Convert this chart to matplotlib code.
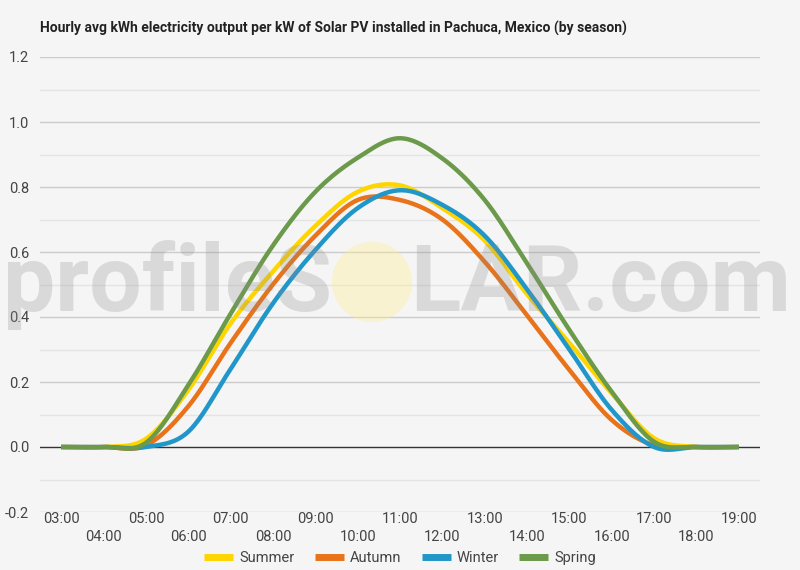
import numpy as np
import matplotlib
matplotlib.use("Agg")
import matplotlib.pyplot as plt
from matplotlib.patches import Ellipse

hours = ["03:00", "04:00", "05:00", "06:00", "07:00", "08:00", "09:00", "10:00", "11:00",
         "12:00", "13:00", "14:00", "15:00", "16:00", "17:00", "18:00", "19:00"]
summer = [0, 0, 0.025, 0.175, 0.38, 0.54, 0.68, 0.785, 0.805, 0.735, 0.635, 0.47, 0.32, 0.165, 0.027, 0, 0]
autumn = [0, 0, 0.005, 0.125, 0.32, 0.50, 0.65, 0.76, 0.76, 0.70, 0.57, 0.405, 0.237, 0.083, 0.005, 0, 0]
winter = [0, 0, 0, 0.047, 0.24, 0.442, 0.606, 0.735, 0.79, 0.745, 0.65, 0.485, 0.30, 0.114, 0, 0, 0]
spring = [0, 0, 0.013, 0.19, 0.41, 0.62, 0.785, 0.89, 0.95, 0.888, 0.76, 0.565, 0.36, 0.17, 0.016, 0, 0]
series_names = ["Summer", "Autumn", "Winter", "Spring"]
colors = ["#FFD500", "#E8731A", "#2196C9", "#6B9A4B"]

plt.rcParams['font.family'] = ['Roboto', 'DejaVu Sans']

def smooth(y, n=20):
    y = np.asarray(y, float)
    x = np.arange(len(y))
    ext = np.concatenate([[y[0]], y, [y[-1]]])
    xs, ys = [], []
    for i in range(len(y) - 1):
        p0, p1, p2, p3 = ext[i], ext[i + 1], ext[i + 2], ext[i + 3]
        t = np.linspace(0, 1, n, endpoint=False)
        m1 = (p2 - p0) / 2
        m2 = (p3 - p1) / 2
        h00 = 2 * t**3 - 3 * t**2 + 1
        h10 = t**3 - 2 * t**2 + t
        h01 = -2 * t**3 + 3 * t**2
        h11 = t**3 - t**2
        xs.append(x[i] + t)
        ys.append(h00 * p1 + h10 * m1 + h01 * p2 + h11 * m2)
    xs.append([x[-1]])
    ys.append([y[-1]])
    return np.concatenate(xs), np.concatenate(ys)

bg = "#f5f5f5"
fig = plt.figure(figsize=(8, 5.7), dpi=100, facecolor=bg)
ax = fig.add_axes([40 / 800, 1 - 512 / 570, 720 / 800, 455 / 570], facecolor=bg)

ax.set_xlim(-0.5, len(hours) - 0.5)
ax.set_ylim(-0.2, 1.2)

for v in np.arange(-0.2, 1.21, 0.1):
    v = round(v, 1)
    if abs(v) < 1e-9:
        continue
    major = abs(round(v * 10)) % 2 == 0
    ax.axhline(v, color="#cccccc" if major else "#e4e4e4", lw=1.0, zorder=0)
ax.axhline(0, color="#333333", lw=1.0, zorder=1)

for name, vals, c in zip(series_names, [summer, autumn, winter, spring], colors):
    xs, ys = smooth(vals)
    ax.plot(xs, ys, color=c, lw=3.2, label=name, solid_capstyle="butt", zorder=3)

for s in ax.spines.values():
    s.set_visible(False)
ax.set_yticks(np.arange(-0.2, 1.21, 0.2))
ax.set_yticklabels([f"{v:.1f}" for v in np.arange(-0.2, 1.21, 0.2)])
ax.tick_params(axis="y", length=0, labelsize=10.5, labelcolor="#444444", pad=8)
ax.set_xticks(range(len(hours)))
ax.set_xticklabels([])
ax.tick_params(axis="x", length=0)
for i, h in enumerate(hours):
    ax.text(i, -0.223 if i % 2 == 0 else -0.278, h, ha="center", va="center",
            fontsize=10.5, color="#444444", transform=ax.transData, clip_on=False)

fig.text(40 / 800, 1 - 28 / 570, "Hourly avg kWh electricity output per kW of Solar PV installed in Pachuca, Mexico (by season)",
         fontsize=10, fontweight="bold", color="#222222", va="center", ha="left")

# watermark
wm_color = (0.55, 0.55, 0.55, 0.26)
fig.text(3 / 800, 1 - 285 / 570, "profileS", fontsize=67, fontweight="bold", color=wm_color,
         va="center", ha="left", zorder=10)
fig.text(410 / 800, 1 - 285 / 570, "LAR.com", fontsize=67, fontweight="bold", color=wm_color,
         va="center", ha="left", zorder=10)
circ = Ellipse((372 / 800, 1 - 282 / 570), 80 / 800, 80 / 570, transform=fig.transFigure,
               facecolor=(1.0, 0.93, 0.55, 0.35), edgecolor="none", zorder=10)
fig.patches.append(circ)

leg = ax.legend(loc="center", bbox_to_anchor=(0.5, -0.101), ncol=4, frameon=False,
                fontsize=10.5, handlelength=2.0, columnspacing=1.4, handletextpad=0.4)
for t in leg.get_texts():
    t.set_color("#444444")
for l in leg.get_lines():
    l.set_linewidth(5)

fig.savefig("out.png", dpi=100, facecolor=bg)
